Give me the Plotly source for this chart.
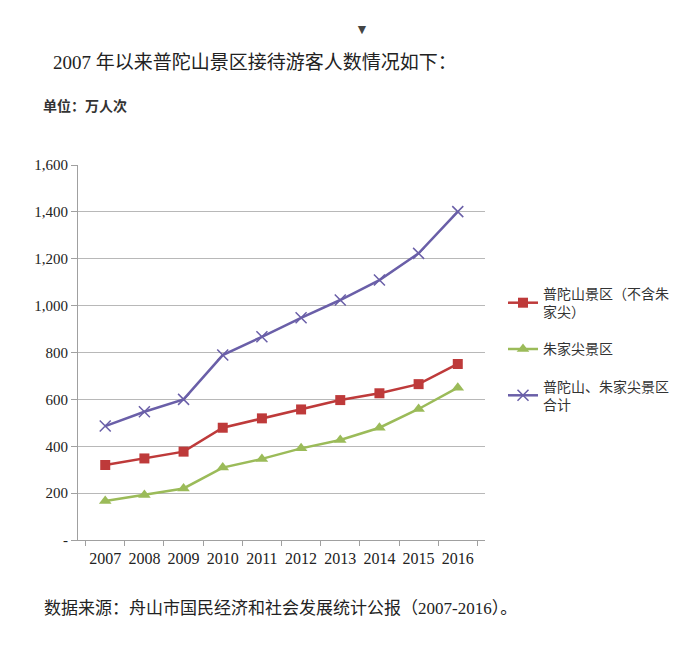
import plotly.graph_objects as go

years = ["2007", "2008", "2009", "2010", "2011", "2012", "2013", "2014", "2015", "2016"]
putuo = [320, 348, 377, 479, 519, 557, 597, 626, 665, 751]
zhujiajian = [166, 192, 220, 309, 346, 391, 427, 479, 559, 650]
total = [486, 547, 600, 789, 867, 948, 1024, 1109, 1223, 1401]

y_ticks = [0, 200, 400, 600, 800, 1000, 1200, 1400, 1600]
y_tick_text = ["-", "200", "400", "600", "800", "1,000", "1,200", "1,400", "1,600"]

names = ["普陀山景区（不含朱<br>家尖）", "朱家尖景区", "普陀山、朱家尖景区<br>合计"]

SERIF = "Liberation Serif, Noto Sans CJK SC, serif"
CJK = "Noto Sans CJK SC, sans-serif"

# page is shifted by the 8px body margin of the browser
OFF = 8
W, H = 700, 661
plot_l, plot_r, plot_t, plot_b = 78 - OFF, 485 - OFF, 165 - OFF, 540 - OFF


def paper(px_x, px_y):
    x = (px_x - OFF - plot_l) / (plot_r - plot_l)
    y = (plot_b - (px_y - OFF)) / (plot_b - plot_t)
    return x, y


fig = go.Figure()
fig.add_trace(go.Scatter(
    x=years, y=putuo, name=names[0], mode="lines+markers", legendgroup="a",
    line=dict(color="#BE3A3A", width=2.5),
    marker=dict(symbol="square", size=10, color="#BE3A3A"),
))
fig.add_trace(go.Scatter(
    x=years, y=zhujiajian, name=names[1], mode="lines+markers", legendgroup="b",
    line=dict(color="#9BBB59", width=2.5),
    marker=dict(symbol="triangle-up", size=11, color="#9BBB59"),
))
fig.add_trace(go.Scatter(
    x=years, y=total, name=names[2], mode="lines+markers", legendgroup="c",
    line=dict(color="#6A5FA8", width=2.5),
    marker=dict(symbol="x-thin-open", size=11, line=dict(color="#6A5FA8", width=1.5)),
))

fig.update_xaxes(
    type="category", tickson="boundaries", ticks="outside", ticklen=5,
    tickcolor="#A0A0A0", showline=True, linecolor="#A0A0A0", linewidth=1,
    showgrid=False, tickangle=0, ticklabelstandoff=4,
    tickfont=dict(family=SERIF, size=16, color="#222"),
)
fig.update_yaxes(
    range=[0, 1600], tickvals=y_ticks, ticktext=y_tick_text,
    ticks="outside", ticklen=6, tickcolor="#A0A0A0",
    showline=True, linecolor="#A0A0A0", linewidth=1,
    showgrid=True, gridcolor="#B8B8B8", gridwidth=1, zeroline=False,
    tickfont=dict(family=SERIF, size=15, color="#222"),
)

annotations = []
for text, px_x, px_y, anchor, font in [
    ("▼", 362, 28, "center", dict(size=14, color="#444")),
    ("2007 年以来普陀山景区接待游客人数情况如下：", 51, 62, "left",
     dict(family=SERIF, size=19, color="#222")),
    ("<b>单位：万人次</b>", 41, 105, "left", dict(family=CJK, size=14, color="#333")),
    ("数据来源：舟山市国民经济和社会发展统计公报（2007-2016）。", 42, 608, "left",
     dict(family=SERIF, size=17, color="#222")),
]:
    ax, ay = paper(px_x, px_y)
    annotations.append(dict(text=text, x=ax, y=ay, xref="paper", yref="paper",
                            showarrow=False, xanchor=anchor, yanchor="middle", font=font))

lx, ly = paper(503, 278)

fig.update_layout(
    width=W, height=H,
    margin=dict(l=plot_l, r=W - plot_r, t=plot_t, b=H - plot_b),
    paper_bgcolor="white", plot_bgcolor="white",
    showlegend=True,
    legend=dict(
        x=lx, y=ly, xanchor="left", yanchor="top",
        font=dict(family=CJK, size=14, color="#333"),
        tracegroupgap=16, itemwidth=30,
        bgcolor="rgba(0,0,0,0)",
    ),
    annotations=annotations,
)

fig.write_html("out.html")
